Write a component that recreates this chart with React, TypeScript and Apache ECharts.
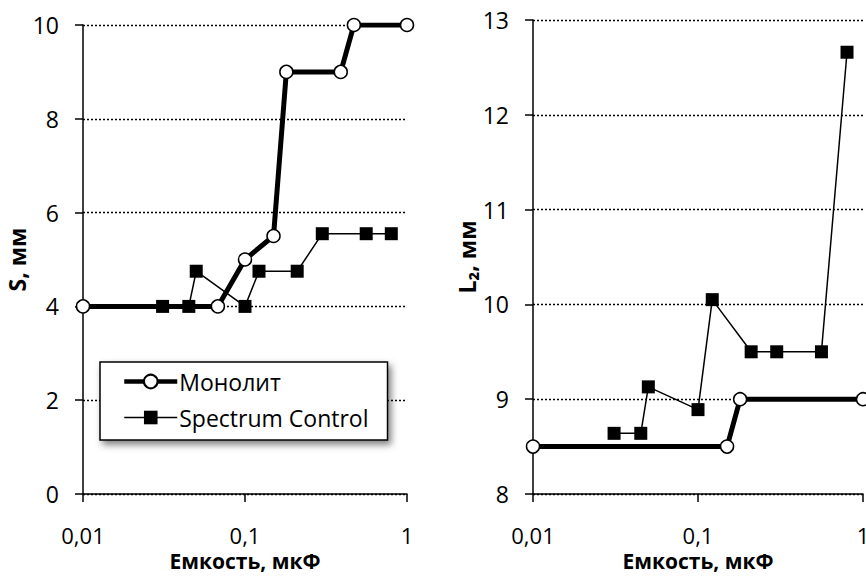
import React, { useEffect, useRef } from "react";
import * as echarts from "echarts";

const xTickLabels = ["0,01", "0,1", "1"];
const seriesNames = ["Монолит", "Spectrum Control"];

// Left chart: S, мм
const sMonolitX = [0.01, 0.068, 0.1, 0.15, 0.18, 0.39, 0.47, 1];
const sMonolitY = [4, 4, 5, 5.5, 9, 9, 10, 10];
const sSpectrumX = [0.031, 0.045, 0.05, 0.1, 0.122, 0.21, 0.3, 0.56, 0.8];
const sSpectrumY = [4, 4, 4.75, 4, 4.75, 4.75, 5.55, 5.55, 5.55];

// Right chart: L2, мм
const lMonolitX = [0.01, 0.15, 0.18, 1];
const lMonolitY = [8.5, 8.5, 9, 9];
const lSpectrumX = [0.031, 0.045, 0.05, 0.1, 0.122, 0.21, 0.3, 0.56, 0.8];
const lSpectrumY = [8.64, 8.64, 9.13, 8.89, 10.05, 9.5, 9.5, 9.5, 12.66];

const FONT = "Open Sans";

const zip = (xs: number[], ys: number[]) => xs.map((x, i) => [x, ys[i]]);

export default function App() {
  const ref = useRef<HTMLDivElement>(null);
  useEffect(() => {
    if (!ref.current) return;
    const chart = echarts.init(ref.current, undefined, { renderer: "svg" });

    const xAxisBase = (gridIndex: number) => ({
      type: "log",
      logBase: 10,
      min: 0.01,
      max: 1,
      gridIndex,
      name: "Емкость, мкФ",
      nameLocation: "middle",
      nameGap: 56,
      nameTextStyle: { fontFamily: FONT, fontSize: 21, fontWeight: "bold", color: "#000" },
      axisLine: { show: true, lineStyle: { color: "#000", width: 1.5 } },
      axisTick: { show: true, length: 8, lineStyle: { color: "#000", width: 1.5 } },
      minorTick: { show: false },
      splitLine: { show: false },
      axisLabel: {
        margin: 30,
        fontFamily: FONT,
        fontSize: 22,
        color: "#000",
        formatter: (v: number) => {
          const idx = Math.round(Math.log10(v)) + 2;
          return xTickLabels[idx] ?? "";
        },
      },
    });

    const yAxisBase = (gridIndex: number, name: string, min: number, max: number, interval: number) => ({
      type: "value",
      gridIndex,
      min,
      max,
      interval,
      name,
      nameLocation: "middle",
      nameGap: 49,
      nameTextStyle: { fontFamily: FONT, fontSize: 23, fontWeight: "bold", color: "#000" },
      axisLine: { show: true, lineStyle: { color: "#000", width: 1.5 } },
      axisTick: { show: true, length: 8, lineStyle: { color: "#000", width: 1.5 } },
      splitLine: { show: true, lineStyle: { color: "#000", width: 1.3, type: [2, 2] } },
      axisLabel: { margin: 24, fontFamily: FONT, fontSize: 23, color: "#000" },
    });

    const monolitStyle = {
      type: "line",
      name: seriesNames[0],
      symbol: "circle",
      symbolSize: 13,
      lineStyle: { color: "#000", width: 5 },
      itemStyle: { color: "#fff", borderColor: "#000", borderWidth: 1.5 },
      z: 2,
    };
    const spectrumStyle = {
      type: "line",
      name: seriesNames[1],
      symbol: "rect",
      symbolSize: 13,
      lineStyle: { color: "#000", width: 1.5 },
      itemStyle: { color: "#000", borderColor: "#000", borderWidth: 0 },
      z: 3,
    };

    chart.setOption({
      animation: false,
      backgroundColor: "#fff",
      textStyle: { fontFamily: FONT },
      grid: [
        { left: 83, top: 25, width: 324, height: 469, containLabel: false, outerBoundsMode: "none" },
        { left: 533, top: 20, width: 330, height: 474, containLabel: false, outerBoundsMode: "none" },
      ],
      xAxis: [xAxisBase(0), xAxisBase(1)],
      yAxis: [
        yAxisBase(0, "S, мм", 0, 10, 2),
        yAxisBase(1, "L₂, мм", 8, 13, 1),
      ],
      legend: {
        data: [
          { name: seriesNames[0], lineStyle: { width: 4.5, color: "#000" } },
          { name: seriesNames[1], lineStyle: { width: 1.5, color: "#000" } },
        ],
        orient: "vertical",
        left: 100,
        top: 362,
        itemWidth: 53,
        itemHeight: 17,
        itemGap: 13,
        padding: [8, 19, 11, 22],
        backgroundColor: "#fff",
        borderColor: "#000",
        borderWidth: 1.5,
        borderRadius: 0,
        shadowBlur: 7,
        shadowOffsetX: 3,
        shadowOffsetY: 4,
        shadowColor: "rgba(0,0,0,0.5)",
        textStyle: { fontFamily: FONT, fontSize: 23, color: "#000", padding: [0, 0, 0, -3] },
      },
      series: [
        { ...monolitStyle, xAxisIndex: 0, yAxisIndex: 0, data: zip(sMonolitX, sMonolitY) },
        { ...spectrumStyle, xAxisIndex: 0, yAxisIndex: 0, data: zip(sSpectrumX, sSpectrumY) },
        { ...monolitStyle, xAxisIndex: 1, yAxisIndex: 1, data: zip(lMonolitX, lMonolitY) },
        { ...spectrumStyle, xAxisIndex: 1, yAxisIndex: 1, data: zip(lSpectrumX, lSpectrumY) },
      ],
    });
    return () => chart.dispose();
  }, []);
  return (
    <div
      ref={ref}
      style={{ position: "absolute", left: 0, top: 0, width: 866, height: 576 }}
    />
  );
}
